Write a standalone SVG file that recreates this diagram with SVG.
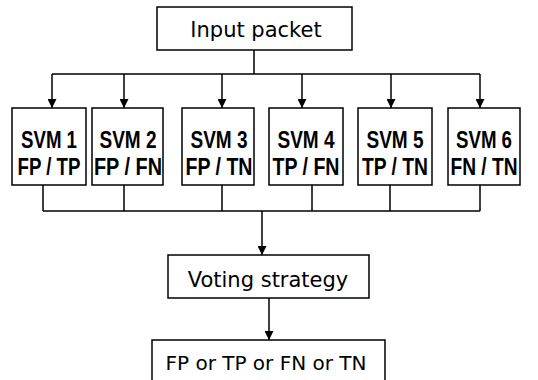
<svg xmlns="http://www.w3.org/2000/svg" width="538" height="380" viewBox="0 0 538 380">
<defs>
<marker id="arr" viewBox="0 0 10 10" refX="10" refY="5" markerWidth="9" markerHeight="9" markerUnits="userSpaceOnUse" orient="auto">
<path d="M0,0 L10,5 L0,10 Z" fill="#000"/>
</marker>
<style>
.box{fill:#fff;stroke:#000;stroke-width:1.5}
.ln{fill:none;stroke:#000;stroke-width:1.5}
.ar{fill:none;stroke:#000;stroke-width:1.5;marker-end:url(#arr)}
.t{font-family:"DejaVu Sans",sans-serif;font-size:21px;fill:#000;text-anchor:middle}
.s{font-family:"Liberation Sans",Arial,sans-serif;font-size:23px;font-weight:bold;fill:#000;text-anchor:middle}
</style>
</defs>
<rect width="538" height="380" fill="#fff"/>
<g id="connectors">
<path class="ln" d="M254,50 V74 M52,74 H480"/>
<path class="ar" d="M52,74 V108"/>
<path class="ar" d="M124,74 V108"/>
<path class="ar" d="M222,74 V108"/>
<path class="ar" d="M302,74 V108"/>
<path class="ar" d="M391,74 V108"/>
<path class="ar" d="M480,74 V108"/>
<path class="ln" d="M43,185 V211 M124,185 V211 M222,185 V211 M312,185 V211 M390,185 V211 M480,185 V211 M43,211 H480"/>
<path class="ar" d="M262,211 V255"/>
<path class="ar" d="M269,298 V340"/>
</g>
<g id="input">
<rect class="box" x="157" y="7" width="195" height="43"/>
<text class="t" x="256" y="37">Input packet</text>
</g>
<g id="svm1">
<rect class="box" x="12" y="108" width="74" height="77"/>
<text class="s" x="49" y="148" textLength="56" lengthAdjust="spacingAndGlyphs">SVM 1</text>
<text class="s" x="49" y="175" textLength="63" lengthAdjust="spacingAndGlyphs">FP / TP</text>
</g>
<g id="svm2">
<rect class="box" x="92" y="108" width="71" height="77"/>
<text class="s" x="128" y="148" textLength="57" lengthAdjust="spacingAndGlyphs">SVM 2</text>
<text class="s" x="128" y="175" textLength="68" lengthAdjust="spacingAndGlyphs">FP / FN</text>
</g>
<g id="svm3">
<rect class="box" x="182" y="108" width="72" height="77"/>
<text class="s" x="219" y="148" textLength="57" lengthAdjust="spacingAndGlyphs">SVM 3</text>
<text class="s" x="219" y="175" textLength="67" lengthAdjust="spacingAndGlyphs">FP / TN</text>
</g>
<g id="svm4">
<rect class="box" x="269" y="108" width="74" height="77"/>
<text class="s" x="306" y="148" textLength="57" lengthAdjust="spacingAndGlyphs">SVM 4</text>
<text class="s" x="306" y="175" textLength="67" lengthAdjust="spacingAndGlyphs">TP / FN</text>
</g>
<g id="svm5">
<rect class="box" x="358" y="108" width="74" height="77"/>
<text class="s" x="395" y="148" textLength="57" lengthAdjust="spacingAndGlyphs">SVM 5</text>
<text class="s" x="395" y="175" textLength="66" lengthAdjust="spacingAndGlyphs">TP / TN</text>
</g>
<g id="svm6">
<rect class="box" x="448" y="108" width="72" height="77"/>
<text class="s" x="484" y="148" textLength="56" lengthAdjust="spacingAndGlyphs">SVM 6</text>
<text class="s" x="484" y="175" textLength="67" lengthAdjust="spacingAndGlyphs">FN / TN</text>
</g>
<g id="voting">
<rect class="box" x="168" y="255" width="201" height="43"/>
<text class="t" x="268" y="287">Voting strategy</text>
</g>
<g id="result">
<rect class="box" x="152" y="340" width="233" height="50"/>
<text class="t" x="266" y="370" style="font-size:20px">FP or TP or FN or TN</text>
</g>
</svg>
